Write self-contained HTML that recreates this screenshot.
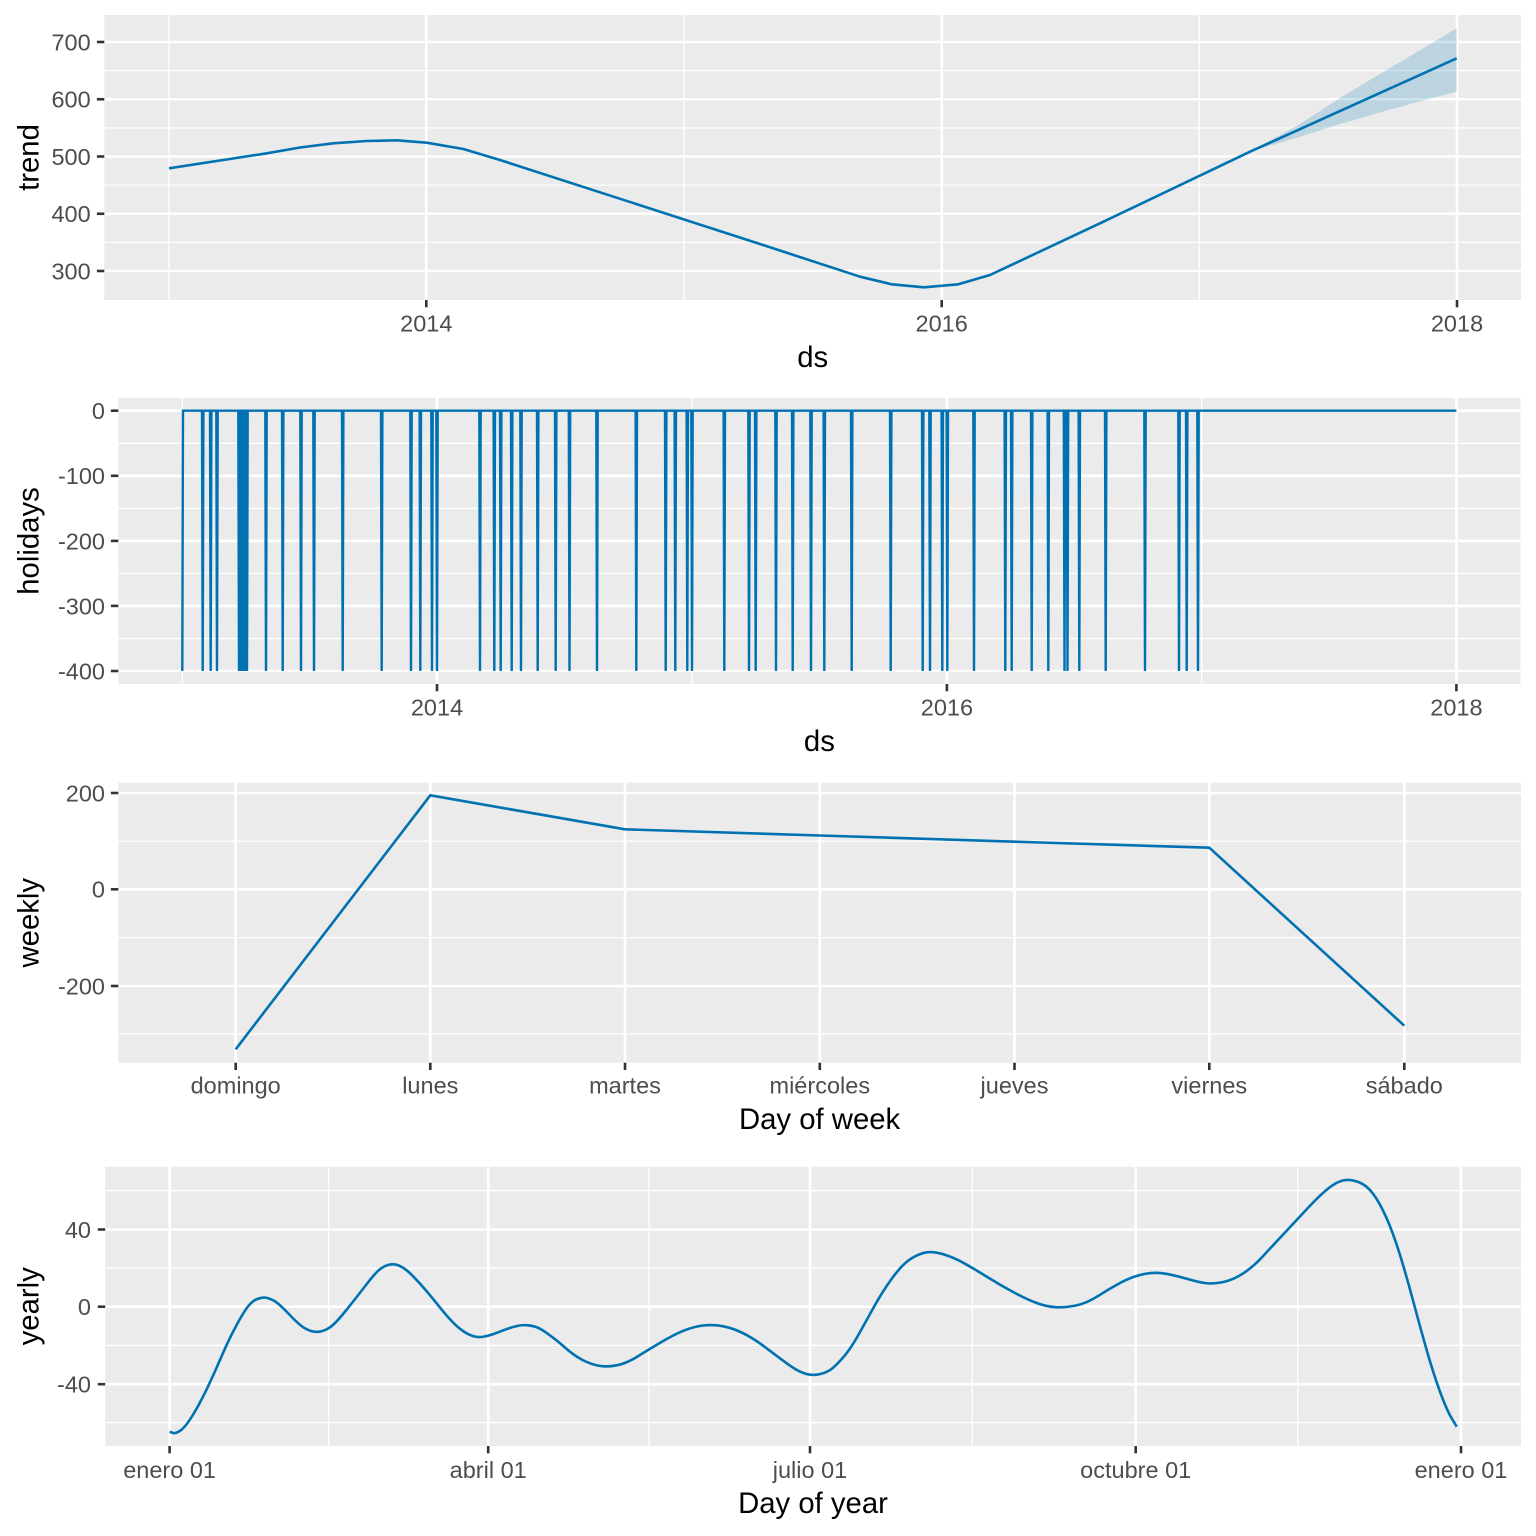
<!DOCTYPE html>
<html><head><meta charset="utf-8"><style>html,body{margin:0;padding:0;background:#fff}svg{display:block}</style></head>
<body>
<svg width="1536" height="1536" viewBox="0 0 1536 1536" xmlns="http://www.w3.org/2000/svg" font-family="'Liberation Sans', Arial, sans-serif">
<rect width="1536" height="1536" fill="#fff"/>

<!-- PANEL 1: trend -->
<rect x="104.3" y="15" width="1416.7" height="285" fill="#EBEBEB"/>
<g stroke="#fff" stroke-width="1.3">
<line x1="104.3" x2="1521" y1="70.6" y2="70.6"/><line x1="104.3" x2="1521" y1="127.9" y2="127.9"/>
<line x1="104.3" x2="1521" y1="185.1" y2="185.1"/><line x1="104.3" x2="1521" y1="242.4" y2="242.4"/>
<line x1="169" x2="169" y1="15" y2="300"/><line x1="684" x2="684" y1="15" y2="300"/><line x1="1199.3" x2="1199.3" y1="15" y2="300"/>
</g>
<g stroke="#fff" stroke-width="2.6">
<line x1="104.3" x2="1521" y1="42" y2="42"/><line x1="104.3" x2="1521" y1="99.25" y2="99.25"/>
<line x1="104.3" x2="1521" y1="156.5" y2="156.5"/><line x1="104.3" x2="1521" y1="213.75" y2="213.75"/>
<line x1="104.3" x2="1521" y1="271" y2="271"/>
<line x1="426.3" x2="426.3" y1="15" y2="300"/><line x1="941.7" x2="941.7" y1="15" y2="300"/><line x1="1457" x2="1457" y1="15" y2="300"/>
</g>
<polygon points="1250,151.7 1300,124 1340,98 1390,68 1456.7,28.3 1456.7,91.7 1410,104 1373,114.5 1340,124 1300,136.7" fill="#0072B2" fill-opacity="0.2"/>
<polyline fill="none" stroke="#0072B2" stroke-width="2.6" stroke-linejoin="round" points="169,168.3 233,158.5 266.7,153.3 300,147.5 333.3,143.3 366.7,141 396.7,140.3 426.7,142.7 463.3,149 500,160 760,244 860,276.7 891.7,284.3 924,287.3 958.3,284.3 990,275 1100,223.3 1250,151.7 1456.7,58.3"/>
<g stroke="#333" stroke-width="2.6">
<line x1="96.9" x2="104.3" y1="42" y2="42"/><line x1="96.9" x2="104.3" y1="99.25" y2="99.25"/>
<line x1="96.9" x2="104.3" y1="156.5" y2="156.5"/><line x1="96.9" x2="104.3" y1="213.75" y2="213.75"/>
<line x1="96.9" x2="104.3" y1="271" y2="271"/>
<line x1="426.3" x2="426.3" y1="300" y2="307.3"/><line x1="941.7" x2="941.7" y1="300" y2="307.3"/><line x1="1457" x2="1457" y1="300" y2="307.3"/>
</g>
<g fill="#4D4D4D" font-size="23.5" text-anchor="end">
<text x="90.7" y="50.4">700</text><text x="90.7" y="107.6">600</text><text x="90.7" y="164.9">500</text>
<text x="90.7" y="222.1">400</text><text x="90.7" y="279.4">300</text>
</g>
<g fill="#4D4D4D" font-size="23.5" text-anchor="middle">
<text x="426.3" y="331.7">2014</text><text x="941.7" y="331.7">2016</text><text x="1457" y="331.7">2018</text>
</g>
<text x="812.7" y="367" font-size="29.3" text-anchor="middle" fill="#000">ds</text>
<text transform="translate(38.5,157.5) rotate(-90)" font-size="29.3" text-anchor="middle" fill="#000">trend</text>

<!-- PANEL 2: holidays -->
<rect x="118.3" y="398" width="1402.2" height="286" fill="#EBEBEB"/>
<g stroke="#fff" stroke-width="1.3">
<line x1="118.3" x2="1520.5" y1="443.3" y2="443.3"/><line x1="118.3" x2="1520.5" y1="508.3" y2="508.3"/>
<line x1="118.3" x2="1520.5" y1="573.4" y2="573.4"/><line x1="118.3" x2="1520.5" y1="638.5" y2="638.5"/>
<line x1="182.3" x2="182.3" y1="398" y2="684"/><line x1="692" x2="692" y1="398" y2="684"/><line x1="1201.7" x2="1201.7" y1="398" y2="684"/>
</g>
<g stroke="#fff" stroke-width="2.6">
<line x1="118.3" x2="1520.5" y1="410.7" y2="410.7"/><line x1="118.3" x2="1520.5" y1="475.8" y2="475.8"/>
<line x1="118.3" x2="1520.5" y1="540.9" y2="540.9"/><line x1="118.3" x2="1520.5" y1="605.9" y2="605.9"/>
<line x1="118.3" x2="1520.5" y1="671" y2="671"/>
<line x1="437" x2="437" y1="398" y2="684"/><line x1="946.9" x2="946.9" y1="398" y2="684"/><line x1="1456.4" x2="1456.4" y1="398" y2="684"/>
</g>
<path fill="none" stroke="#0072B2" stroke-width="2.4" d="M182.3 671 L183 410.7
L202 410.7 L202.7 671 L203.4 410.7
L210 410.7 L210.7 671 L211.4 410.7
L216.3 410.7 L217 671 L217.7 410.7
L238.3 410.7 L239 671 L239.7 410.7
L240.3 410.7 L241 671 L241.7 410.7
L242.3 410.7 L243 671 L243.7 410.7
L244.3 410.7 L245 671 L245.7 410.7
L246.3 410.7 L247 671 L247.7 410.7
L265.3 410.7 L266 671 L266.7 410.7
L282 410.7 L282.7 671 L283.4 410.7
L300.3 410.7 L301 671 L301.7 410.7
L313.3 410.7 L314 671 L314.7 410.7
L342 410.7 L342.7 671 L343.4 410.7
L381 410.7 L381.7 671 L382.4 410.7
L410.3 410.7 L411 671 L411.7 410.7
L419.6 410.7 L420.3 671 L421 410.7
L431.3 410.7 L432 671 L432.7 410.7
L436.3 410.7 L437 671 L437.7 410.7
L479.3 410.7 L480 671 L480.7 410.7
L493.6 410.7 L494.3 671 L495 410.7
L500 410.7 L500.7 671 L501.4 410.7
L511 410.7 L511.7 671 L512.4 410.7
L520.3 410.7 L521 671 L521.7 410.7
L537 410.7 L537.7 671 L538.4 410.7
L555 410.7 L555.7 671 L556.4 410.7
L568.8 410.7 L569.5 671 L570.2 410.7
L596.3 410.7 L597 671 L597.7 410.7
L635.6 410.7 L636.3 671 L637 410.7
L665 410.7 L665.7 671 L666.4 410.7
L674.6 410.7 L675.3 671 L676 410.7
L686.6 410.7 L687.3 671 L688 410.7
L691.3 410.7 L692 671 L692.7 410.7
L723.6 410.7 L724.3 671 L725 410.7
L748.3 410.7 L749 671 L749.7 410.7
L755 410.7 L755.7 671 L756.4 410.7
L775.3 410.7 L776 671 L776.7 410.7
L792 410.7 L792.7 671 L793.4 410.7
L810.3 410.7 L811 671 L811.7 410.7
L823.6 410.7 L824.3 671 L825 410.7
L851 410.7 L851.7 671 L852.4 410.7
L890 410.7 L890.7 671 L891.4 410.7
L922 410.7 L922.7 671 L923.4 410.7
L929.3 410.7 L930 671 L930.7 410.7
L941.6 410.7 L942.3 671 L943 410.7
L946.6 410.7 L947.3 671 L948 410.7
L973.3 410.7 L974 671 L974.7 410.7
L1004.6 410.7 L1005.3 671 L1006 410.7
L1011 410.7 L1011.7 671 L1012.4 410.7
L1031 410.7 L1031.7 671 L1032.4 410.7
L1047.6 410.7 L1048.3 671 L1049 410.7
L1063.8 410.7 L1064.5 671 L1065.2 410.7
L1066.8 410.7 L1067.5 671 L1068.2 410.7
L1078.6 410.7 L1079.3 671 L1080 410.7
L1105 410.7 L1105.7 671 L1106.4 410.7
L1144.3 410.7 L1145 671 L1145.7 410.7
L1178.3 410.7 L1179 671 L1179.7 410.7
L1186 410.7 L1186.7 671 L1187.4 410.7
L1197.3 410.7 L1198 671 L1198.7 410.7
L1456.4 410.7"/>
<g stroke="#333" stroke-width="2.6">
<line x1="110.9" x2="118.3" y1="410.7" y2="410.7"/><line x1="110.9" x2="118.3" y1="475.8" y2="475.8"/>
<line x1="110.9" x2="118.3" y1="540.9" y2="540.9"/><line x1="110.9" x2="118.3" y1="605.9" y2="605.9"/>
<line x1="110.9" x2="118.3" y1="671" y2="671"/>
<line x1="437" x2="437" y1="684" y2="691.3"/><line x1="946.9" x2="946.9" y1="684" y2="691.3"/><line x1="1456.4" x2="1456.4" y1="684" y2="691.3"/>
</g>
<g fill="#4D4D4D" font-size="23.5" text-anchor="end">
<text x="105" y="419.1">0</text><text x="105" y="484.2">-100</text><text x="105" y="549.3">-200</text>
<text x="105" y="614.3">-300</text><text x="105" y="679.4">-400</text>
</g>
<g fill="#4D4D4D" font-size="23.5" text-anchor="middle">
<text x="437" y="715.5">2014</text><text x="946.9" y="715.5">2016</text><text x="1456.4" y="715.5">2018</text>
</g>
<text x="819.4" y="751" font-size="29.3" text-anchor="middle" fill="#000">ds</text>
<text transform="translate(38.5,541) rotate(-90)" font-size="29.3" text-anchor="middle" fill="#000">holidays</text>

<!-- PANEL 3: weekly -->
<rect x="118.3" y="782.7" width="1402.7" height="280" fill="#EBEBEB"/>
<g stroke="#fff" stroke-width="1.3">
<line x1="118.3" x2="1521" y1="841.2" y2="841.2"/><line x1="118.3" x2="1521" y1="937.6" y2="937.6"/>
<line x1="118.3" x2="1521" y1="1034" y2="1034"/>
</g>
<g stroke="#fff" stroke-width="2.6">
<line x1="118.3" x2="1521" y1="793" y2="793"/><line x1="118.3" x2="1521" y1="889.3" y2="889.3"/>
<line x1="118.3" x2="1521" y1="986" y2="986"/>
<line x1="235.7" x2="235.7" y1="782.7" y2="1062.7"/><line x1="430.3" x2="430.3" y1="782.7" y2="1062.7"/>
<line x1="625" x2="625" y1="782.7" y2="1062.7"/><line x1="819.8" x2="819.8" y1="782.7" y2="1062.7"/>
<line x1="1014.5" x2="1014.5" y1="782.7" y2="1062.7"/><line x1="1209.3" x2="1209.3" y1="782.7" y2="1062.7"/>
<line x1="1404.3" x2="1404.3" y1="782.7" y2="1062.7"/>
</g>
<polyline fill="none" stroke="#0072B2" stroke-width="2.6" stroke-linejoin="round" points="235.7,1049.3 430.3,795.3 625,829.3 819.8,835.5 1014.5,841.7 1209.3,847.7 1404.3,1025.7"/>
<g stroke="#333" stroke-width="2.6">
<line x1="110.9" x2="118.3" y1="793" y2="793"/><line x1="110.9" x2="118.3" y1="889.3" y2="889.3"/>
<line x1="110.9" x2="118.3" y1="986" y2="986"/>
<line x1="235.7" x2="235.7" y1="1062.7" y2="1070"/><line x1="430.3" x2="430.3" y1="1062.7" y2="1070"/>
<line x1="625" x2="625" y1="1062.7" y2="1070"/><line x1="819.8" x2="819.8" y1="1062.7" y2="1070"/>
<line x1="1014.5" x2="1014.5" y1="1062.7" y2="1070"/><line x1="1209.3" x2="1209.3" y1="1062.7" y2="1070"/>
<line x1="1404.3" x2="1404.3" y1="1062.7" y2="1070"/>
</g>
<g fill="#4D4D4D" font-size="23.5" text-anchor="end">
<text x="105" y="801.4">200</text><text x="105" y="897.7">0</text><text x="105" y="994.4">-200</text>
</g>
<g fill="#4D4D4D" font-size="23.5" text-anchor="middle">
<text x="235.7" y="1093.5">domingo</text><text x="430.3" y="1093.5">lunes</text><text x="625" y="1093.5">martes</text>
<text x="819.8" y="1093.5">miércoles</text><text x="1014.5" y="1093.5">jueves</text><text x="1209.3" y="1093.5">viernes</text>
<text x="1404.3" y="1093.5">sábado</text>
</g>
<text x="819.6" y="1129" font-size="29.3" text-anchor="middle" fill="#000">Day of week</text>
<text transform="translate(38.5,922.7) rotate(-90)" font-size="29.3" text-anchor="middle" fill="#000">weekly</text>

<!-- PANEL 4: yearly -->
<rect x="105.2" y="1166.7" width="1415.8" height="279.3" fill="#EBEBEB"/>
<g stroke="#fff" stroke-width="1.3">
<line x1="105.2" x2="1521" y1="1190.7" y2="1190.7"/><line x1="105.2" x2="1521" y1="1268.2" y2="1268.2"/>
<line x1="105.2" x2="1521" y1="1345.3" y2="1345.3"/><line x1="105.2" x2="1521" y1="1422.7" y2="1422.7"/>
<line x1="328.6" x2="328.6" y1="1166.7" y2="1446"/><line x1="649" x2="649" y1="1166.7" y2="1446"/>
<line x1="972.3" x2="972.3" y1="1166.7" y2="1446"/><line x1="1297.7" x2="1297.7" y1="1166.7" y2="1446"/>
</g>
<g stroke="#fff" stroke-width="2.6">
<line x1="105.2" x2="1521" y1="1229.5" y2="1229.5"/><line x1="105.2" x2="1521" y1="1306.7" y2="1306.7"/>
<line x1="105.2" x2="1521" y1="1384.2" y2="1384.2"/>
<line x1="169.6" x2="169.6" y1="1166.7" y2="1446"/><line x1="488.2" x2="488.2" y1="1166.7" y2="1446"/>
<line x1="810" x2="810" y1="1166.7" y2="1446"/><line x1="1135.7" x2="1135.7" y1="1166.7" y2="1446"/>
<line x1="1461" x2="1461" y1="1166.7" y2="1446"/>
</g>
<path fill="none" stroke="#0072B2" stroke-width="2.6" stroke-linejoin="round" d="M169.6,1431.7 L172.65,1432.85
Q175.7,1434 180.7,1430.35 Q185.7,1426.7 192.85,1415 Q200,1403.3 207.15,1388.3 Q214.3,1373.3 221.45,1356.65
Q228.6,1340 235.75,1326.65 Q242.9,1313.3 247.45,1307.15 Q252,1301 257.25,1299 Q262.5,1297 266.25,1297.75
Q270,1298.5 274.3,1300.9 Q278.6,1303.3 289.3,1314.5 Q300,1325.7 305,1328.35 Q310,1331 313.95,1331.65
Q317.9,1332.3 321.95,1331.15 Q326,1330 330.85,1326.65 Q335.7,1323.3 346.35,1310 Q357,1296.7 366,1285
Q375,1273.3 379.5,1269.65 Q384,1266 388.45,1264.85 Q392.9,1263.7 396.95,1264.85 Q401,1266 405.85,1269.65
Q410.7,1273.3 419.65,1283.3 Q428.6,1293.3 439.3,1306.65 Q450,1320 457.15,1326.35 Q464.3,1332.7 470.55,1335.2
Q476.8,1337.7 482.4,1336.85 Q488,1336 494,1333.85 Q500,1331.7 506,1329.35 Q512,1327 517.6,1325.85
Q523.2,1324.7 528.1,1325.35 Q533,1326 536.5,1327.15 Q540,1328.3 548.35,1334.15 Q556.7,1340 565,1347.5
Q573.3,1355 581.65,1359.5 Q590,1364 598.35,1365.65 Q606.7,1367.3 616.7,1365.3 Q626.7,1363.3 636.7,1357
Q646.7,1350.7 660,1342.85 Q673.3,1335 683.3,1330.85 Q693.3,1326.7 703.3,1325.5 Q713.3,1324.3 723.3,1326.3
Q733.3,1328.3 743.3,1333.3 Q753.3,1338.3 763.3,1345.8 Q773.3,1353.3 783.3,1360.8 Q793.3,1368.3 799.15,1371.15
Q805,1374 810,1374.65 Q815,1375.3 820,1374.15 Q825,1373 829.15,1370.65 Q833.3,1368.3 841.65,1359.15
Q850,1350 858.35,1335 Q866.7,1320 875,1305 Q883.3,1290 893.3,1276.65 Q903.3,1263.3 911.65,1258.3
Q920,1253.3 926.65,1252.3 Q933.3,1251.3 943.3,1254.3 Q953.3,1257.3 963.3,1262.8 Q973.3,1268.3 986.65,1276.65
Q1000,1285 1013.35,1292.15 Q1026.7,1299.3 1036.7,1303 Q1046.7,1306.7 1055.85,1307.2 Q1065,1307.7 1075.85,1305.5
Q1086.7,1303.3 1098.35,1295.8 Q1110,1288.3 1121.65,1282.15 Q1133.3,1276 1145,1273.85 Q1156.7,1271.7 1168.35,1274.2
Q1180,1276.7 1190,1279.6 Q1200,1282.5 1206.65,1283.25 Q1213.3,1284 1223.3,1282 Q1233.3,1280 1243.3,1273.35
Q1253.3,1266.7 1263.3,1255.85 Q1273.3,1245 1285,1232.5 Q1296.7,1220 1308.35,1207.5 Q1320,1195 1328.35,1188.35
Q1336.7,1181.7 1343.35,1180.35 Q1350,1179 1358.35,1182 Q1366.7,1185 1373.35,1194.15 Q1380,1203.3 1386.65,1218.3
Q1393.3,1233.3 1400,1255 Q1406.7,1276.7 1413.35,1301.7 Q1420,1326.7 1426.65,1350 Q1433.3,1373.3 1440,1391.65
Q1446.7,1410 1451.7,1418.35 L1456.7,1426.7"/>
<g stroke="#333" stroke-width="2.6">
<line x1="97.8" x2="105.2" y1="1229.5" y2="1229.5"/><line x1="97.8" x2="105.2" y1="1306.7" y2="1306.7"/>
<line x1="97.8" x2="105.2" y1="1384.2" y2="1384.2"/>
<line x1="169.6" x2="169.6" y1="1446" y2="1453.3"/><line x1="488.2" x2="488.2" y1="1446" y2="1453.3"/>
<line x1="810" x2="810" y1="1446" y2="1453.3"/><line x1="1135.7" x2="1135.7" y1="1446" y2="1453.3"/>
<line x1="1461" x2="1461" y1="1446" y2="1453.3"/>
</g>
<g fill="#4D4D4D" font-size="23.5" text-anchor="end">
<text x="91" y="1237.9">40</text><text x="91" y="1315.1">0</text><text x="91" y="1392.6">-40</text>
</g>
<g fill="#4D4D4D" font-size="23.5" text-anchor="middle">
<text x="169.6" y="1478">enero 01</text><text x="488.2" y="1478">abril 01</text><text x="810" y="1478">julio 01</text>
<text x="1135.7" y="1478">octubre 01</text><text x="1461" y="1478">enero 01</text>
</g>
<text x="813" y="1513" font-size="29.3" text-anchor="middle" fill="#000">Day of year</text>
<text transform="translate(38.5,1306.3) rotate(-90)" font-size="29.3" text-anchor="middle" fill="#000">yearly</text>
</svg>
</body></html>
